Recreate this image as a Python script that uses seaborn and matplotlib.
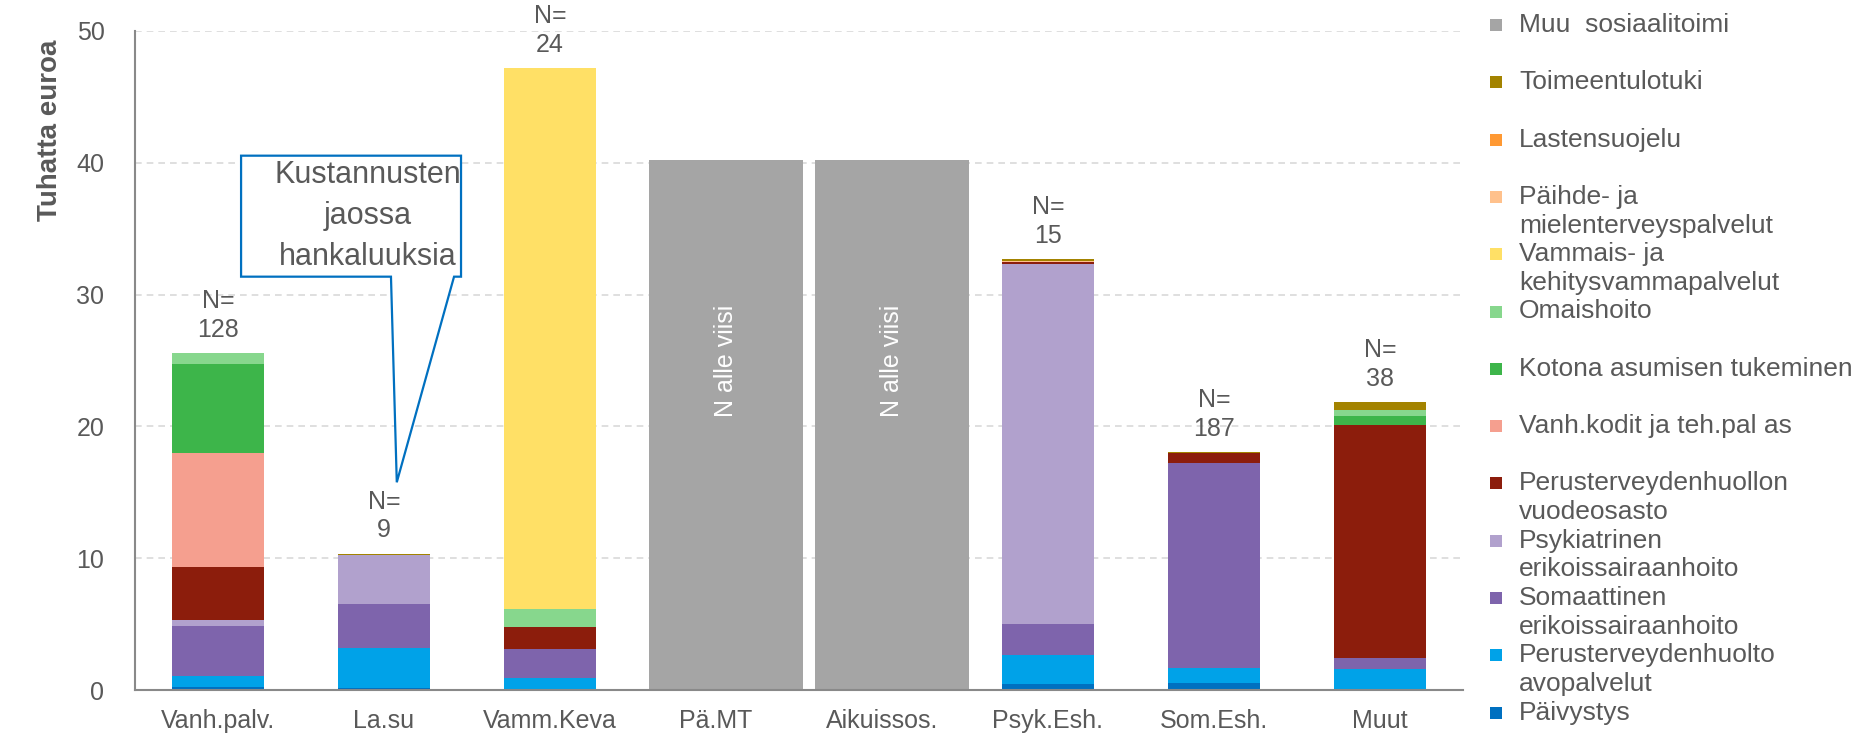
import numpy as np
import pandas as pd
import matplotlib
matplotlib.use("Agg")
import matplotlib.pyplot as plt
import seaborn as sns
from matplotlib.patches import Polygon, Rectangle

# ---------------- data ----------------
categories = ["Vanh.palv.", "La.su", "Vamm.Keva", "Pä.MT", "Aikuissos.",
              "Psyk.Esh.", "Som.Esh.", "Muut"]
n_labels = ["128", "9", "24", "", "", "15", "187", "38"]

paivystys = [0.25, 0.15, 0.05, 0, 0, 0.46, 0.50, 0.05]
pth_avo = [0.80, 3.00, 0.83, 0, 0, 2.20, 1.19, 1.57]
somaattinen = [3.80, 3.36, 2.20, 0, 0, 2.38, 15.50, 0.84]
psykiatrinen = [0.48, 3.71, 0, 0, 0, 27.30, 0, 0]
pth_vuode = [4.00, 0, 1.67, 0, 0, 0.13, 0.76, 17.67]
vanhkodit = [8.64, 0, 0, 0, 0, 0, 0, 0]
kotona = [6.77, 0, 0, 0, 0, 0, 0, 0.68]
omaishoito = [0.80, 0, 1.36, 0, 0, 0, 0, 0.43]
vammais = [0.05, 0, 41.10, 0, 0, 0, 0, 0]
paihde = [0, 0.03, 0, 0, 0, 0.05, 0.04, 0]
lastensuojelu = [0, 0, 0, 0, 0, 0, 0, 0]
toimeentulotuki = [0, 0.10, 0, 0, 0, 0.18, 0.08, 0.63]
muu_sosiaalitoimi = [0, 0, 0, 40.2, 40.2, 0, 0, 0]

small_n_text = "N alle viisi"
callout_text = "Kustannusten\njaossa\nhankaluuksia"

# stacking order bottom -> top
stack = [
    ("Päivystys", paivystys, "#0070C0"),
    ("Perusterveydenhuolto\navopalvelut", pth_avo, "#00A2E8"),
    ("Somaattinen\nerikoissairaanhoito", somaattinen, "#7E64AC"),
    ("Psykiatrinen\nerikoissairaanhoito", psykiatrinen, "#B1A1CD"),
    ("Perusterveydenhuollon\nvuodeosasto", pth_vuode, "#8C1D0C"),
    ("Vanh.kodit ja teh.pal as", vanhkodit, "#F59F8F"),
    ("Kotona asumisen tukeminen", kotona, "#3DB54A"),
    ("Omaishoito", omaishoito, "#87D78D"),
    ("Vammais- ja\nkehitysvammapalvelut", vammais, "#FFE066"),
    ("Päihde- ja\nmielenterveyspalvelut", paihde, "#FFC18C"),
    ("Lastensuojelu", lastensuojelu, "#FF9933"),
    ("Toimeentulotuki", toimeentulotuki, "#A38300"),
]
gray_series = ("Muu  sosiaalitoimi", muu_sosiaalitoimi, "#A5A5A5")

# ---------------- style ----------------
sns.set_theme(style="white")
plt.rcParams['font.family'] = ['Liberation Sans', 'DejaVu Sans']
TXT = "#595959"
AX = "#898989"

W, H = 1873, 736
fig = plt.figure(figsize=(W / 100, H / 100), dpi=100)
ax = fig.add_axes([135 / W, 46 / H, 1328 / W, 659 / H])

bottom = np.zeros(len(categories))
for name, vals, color in stack:
    df = pd.DataFrame({"cat": categories, "val": vals})
    sns.barplot(data=df, x="cat", y="val", order=categories, color=color,
                width=0.555, bottom=bottom.copy(), errorbar=None, ax=ax,
                linewidth=0, saturation=1)
    bottom += np.array(vals, dtype=float)

gname, gvals, gcolor = gray_series
dfg = pd.DataFrame({"cat": categories, "val": gvals})
n_before = len(ax.patches)
sns.barplot(data=dfg, x="cat", y="val", order=categories, color=gcolor,
            width=0.93, bottom=bottom.copy(), errorbar=None, ax=ax,
            linewidth=0, saturation=1)
GRAY_SHIFT = 0.06  # gray series sits slightly right (separate axis group)
for p in ax.patches[n_before:]:
    p.set_x(p.get_x() + GRAY_SHIFT)
totals = bottom + np.array(gvals, dtype=float)

# N labels
for i, n in enumerate(n_labels):
    if n:
        ax.annotate(f"N=\n{n}", (i, totals[i]), xytext=(0, 8),
                    textcoords="offset points", ha="center", va="bottom",
                    fontsize=18, color=TXT, annotation_clip=False,
                    linespacing=1.25)
    if gvals[i] > 0:
        ax.text(i + GRAY_SHIFT, 25, small_n_text, rotation=90, ha="center",
                va="center", color="white", fontsize=18)

# axes styling
ax.set_ylim(0, 50)
ax.set_xlim(-0.5, len(categories) - 0.5)
ax.set_yticks(range(0, 51, 10))
ax.yaxis.grid(True, color="#D9D9D9", linestyle=(0, (4, 3)), linewidth=1.2)
ax.set_axisbelow(True)
for s in ["top", "right"]:
    ax.spines[s].set_visible(False)
for s in ["left", "bottom"]:
    ax.spines[s].set_color(AX)
    ax.spines[s].set_linewidth(1.5)
ax.tick_params(axis="y", direction="in", length=7, width=1.5, color=AX,
               labelsize=18, labelcolor=TXT, pad=22)
ax.tick_params(axis="x", length=0, labelsize=18, labelcolor=TXT, pad=14)
ax.set_xlabel("")
ax.set_ylabel("Tuhatta euroa", fontsize=20, fontweight="bold", color=TXT)
ax.yaxis.set_label_coords(-0.054, 0.85)

# callout
poly = Polygon([(0.139, 40.54), (1.464, 40.54), (1.464, 31.36), (1.422, 31.36),
                (1.077, 15.76), (1.042, 31.36), (0.139, 31.36)], closed=True,
               facecolor="white", edgecolor="#0070C0", linewidth=1.6,
               zorder=5, clip_on=False)
ax.add_patch(poly)
ax.text(0.90, 35.96, callout_text, ha="center", va="center", fontsize=22,
        color=TXT, zorder=6, linespacing=1.47)

# legend (top -> bottom)
legend_items = [(gname, gcolor)] + [(n, c) for n, _, c in stack[::-1]]
y0, dy, line_h = 25, 57.3, 28.7
for i, (label, color) in enumerate(legend_items):
    yp = y0 + i * dy
    fig.add_artist(Rectangle((1490 / W, 1 - (yp + 6) / H), 12 / W, 12 / H,
                             transform=fig.transFigure, facecolor=color,
                             edgecolor="none"))
    for k, line in enumerate(label.split("\n")):
        fig.text(1519 / W, 1 - (yp + k * line_h) / H, line, va="center",
                 ha="left", fontsize=19, color=TXT)

fig.savefig("out.png", dpi=100, facecolor="white")
